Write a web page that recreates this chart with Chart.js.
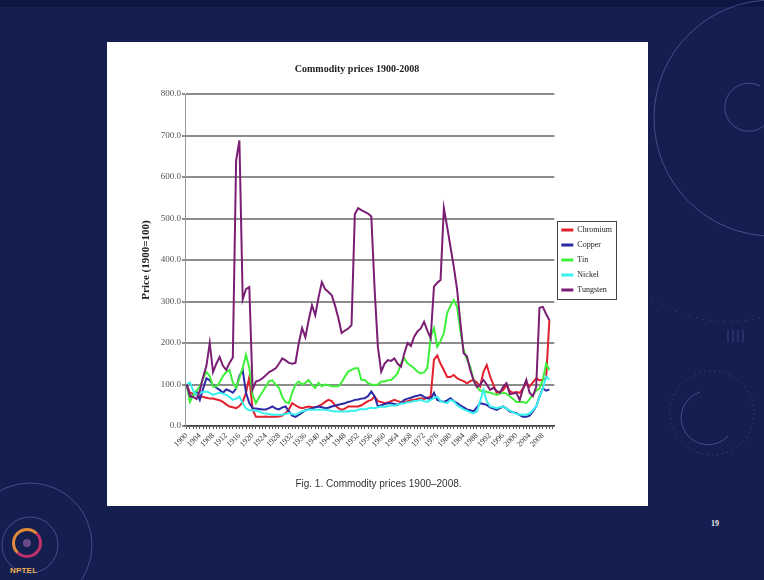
<!DOCTYPE html>
<html>
<head>
<meta charset="utf-8">
<script src="https://cdn.jsdelivr.net/npm/chart.js@4.4.1/dist/chart.umd.min.js"></script>
<style>
  html, body { margin: 0; padding: 0; }
  body { width: 764px; height: 580px; background: #141e4f; position: relative; overflow: hidden; font-family: "Liberation Serif", serif; }
  #band { position: absolute; left: 0; top: 0; width: 764px; height: 7px; background: #0d1542; }
  #deco { position: absolute; left: 0; top: 0; }
  #panel { position: absolute; left: 107px; top: 42px; width: 541px; height: 464px; background: #fff; }
  #chart { position: absolute; left: 0; top: 0; }
  #title { position: absolute; left: 0; top: 21px; width: 500px; text-align: center; font: bold 10px "Liberation Serif", serif; line-height: 12px; color: #222; }
  #caption { position: absolute; left: 0; top: 436px; width: 543px; text-align: center; font: 10px "Liberation Sans Narrow", "Liberation Sans", sans-serif; line-height: 12px; color: #333; }
  #logo { position: absolute; left: 12px; top: 528px; width: 30px; height: 30px; border-radius: 50%; border: 3px solid #e08a3a; border-right-color: #c0306a; border-bottom-color: #c0306a; box-sizing: border-box; }
  #logo::after { content: ""; position: absolute; left: 8px; top: 8px; width: 8px; height: 8px; border-radius: 50%; background: #6a4a8a; }
  #nptel { position: absolute; left: 10px; top: 566px; font: bold 8px "Liberation Sans", sans-serif; color: #f0b050; letter-spacing: 0.2px; }
  #page { position: absolute; left: 711px; top: 519px; font: bold 8px "Liberation Serif", serif; color: #e8e8f0; }
</style>
</head>
<body>
<div id="band"></div>
<svg id="deco" width="764" height="580" viewBox="0 0 764 580">
  <g fill="none" stroke="rgba(120,140,210,0.45)" stroke-width="1">
    <circle cx="772" cy="118" r="118"/>
    <path d="M 760 86 A 24 24 0 1 0 766 124"/>
    <path d="M 700 392 A 27 27 0 1 0 728 436"/>
    <circle cx="712" cy="413" r="42" stroke-dasharray="1 4"/>
    <circle cx="30" cy="545" r="28"/>
    <circle cx="30" cy="545" r="62"/>
    <path d="M 640 290 A 140 140 0 0 0 760 318" stroke-dasharray="1 6"/>
  </g>
  <g stroke="rgba(120,140,210,0.35)" stroke-width="1">
    <line x1="728" y1="330" x2="728" y2="342"/>
    <line x1="733" y1="330" x2="733" y2="342"/>
    <line x1="738" y1="330" x2="738" y2="342"/>
    <line x1="743" y1="330" x2="743" y2="342"/>
  </g>
</svg>
<div id="panel">
  <canvas id="chart" width="541" height="464"></canvas>
  <div id="title">Commodity prices 1900-2008</div>
  <div id="caption">Fig. 1. Commodity prices 1900&#8211;2008.</div>
</div>
<div id="logo"></div>
<div id="nptel">NPTEL</div>
<div id="page">19</div>

<script>
// Year categories along the x axis (one per year; data runs 1900-2010)
const firstYear = 1900;
const lastYear = 2011;
const years = [];
for (let y = firstYear; y <= lastYear; y++) years.push(y);

// Only every fourth year carries a printed label, up to 2008
const labelStep = 4;
const lastLabelYear = 2008;

// Y axis range and tick spacing (1900 = 100)
const yMin = 0;
const yMax = 800;
const yStep = 100;

// Price indices, 1900 = 100
const chromium = [
  100, 80, 78, 75, 72, 70, 68, 66, 66, 64,
  62, 58, 52, 47, 45, 43, 48, 58, 80, 118,
  40, 22, 22, 22, 23, 22, 22, 22, 23, 25,
  31, 40, 55, 50, 45, 43, 45, 47, 45, 45,
  48, 52, 58, 63, 60, 50, 43, 39, 42, 47,
  47, 47, 47, 50, 55, 60, 63, 71, 60, 58,
  55, 57, 60, 63, 60, 58, 58, 60, 62, 63,
  65, 67, 65, 68, 71, 160, 170, 150, 135, 118,
  118, 123, 115, 111, 108, 103, 108, 111, 105, 95,
  130, 147, 120, 100, 80, 82, 87, 99, 84, 80,
  82, 80, 90, 103, 95, 105, 115, 110, 112, 115,
  255
];

const copper = [
  100, 70, 75, 83, 63, 90, 115, 110, 99, 92,
  87, 80, 88, 85, 80, 90, 120, 135, 80, 55,
  43, 42, 41, 40, 40, 43, 47, 42, 40, 45,
  47, 35, 25, 22, 27, 32, 38, 40, 42, 45,
  47, 45, 43, 44, 47, 49, 51, 53, 55, 58,
  60, 63, 64, 66, 67, 72, 83, 71, 47, 50,
  53, 55, 55, 53, 51, 56, 63, 66, 68, 71,
  73, 75, 70, 67, 65, 80, 63, 60, 58, 62,
  67, 60, 55, 50, 45, 40, 38, 35, 45, 55,
  53, 51, 45, 42, 39, 43, 47, 42, 35, 33,
  31, 26, 22, 22, 25, 35, 47, 71, 91, 85,
  88
];

const tin = [
  100, 58, 75, 85, 95, 115, 130, 120, 95, 95,
  105, 120, 130, 135, 105, 92, 115, 140, 172, 140,
  75, 55, 70, 82, 95, 108, 110, 100, 92, 70,
  58, 55, 80, 100, 107, 100, 104, 111, 100, 92,
  104, 96, 100, 98, 96, 96, 96, 105, 119, 131,
  135, 139, 139, 111, 111, 103, 100, 99, 100, 107,
  107, 110, 111, 118, 127, 151, 163, 151, 145, 139,
  131, 127, 129, 140, 215, 236, 191, 205, 224, 272,
  290, 303, 287, 230, 183, 160, 143, 111, 95, 85,
  85, 82, 80, 78, 75, 78, 80, 78, 71, 65,
  58, 58, 58, 55, 65, 75, 85, 90, 111, 150,
  135
];

const nickel = [
  100, 105, 85, 75, 80, 82, 83, 80, 75, 78,
  80, 78, 75, 70, 63, 66, 71, 55, 42, 38,
  38, 37, 35, 31, 30, 29, 27, 27, 27, 27,
  29, 31, 29, 27, 31, 35, 37, 39, 39, 39,
  39, 39, 39, 38, 36, 35, 35, 35, 35, 35,
  37, 36, 39, 41, 40, 42, 44, 43, 45, 47,
  46, 48, 50, 49, 51, 54, 55, 57, 58, 60,
  61, 63, 60, 58, 63, 67, 71, 60, 57, 55,
  63, 60, 50, 45, 40, 37, 33, 31, 35, 60,
  87, 60, 47, 45, 43, 45, 47, 42, 37, 33,
  29, 27, 27, 27, 30, 38, 47, 70, 90, 119,
  112
];

const tungsten = [
  100, 72, 70, 65, 85, 118, 145, 200, 130, 150,
  166, 145, 135, 152, 165, 640, 688, 305, 330, 335,
  88, 107, 110, 115, 122, 130, 134, 139, 150, 163,
  158, 152, 150, 152, 200, 236, 214, 255, 291, 267,
  310, 347, 330, 323, 315, 290, 260, 224, 230, 235,
  243, 510, 525, 520, 516, 512, 505, 330, 190, 131,
  150, 159, 157, 163, 150, 143, 175, 200, 193, 215,
  228, 235, 251, 230, 212, 336, 345, 352, 525, 480,
  432, 384, 330, 250, 175, 168, 135, 110, 94, 100,
  111, 100, 87, 92, 85, 80, 95, 103, 77, 78,
  80, 63, 90, 111, 80, 72, 94, 285, 287, 270,
  255
];

const seriesNames = ['Chromium', 'Copper', 'Tin', 'Nickel', 'Tungsten'];
const seriesData = [chromium, copper, tin, nickel, tungsten];
const seriesColors = ['#e3202e', '#2d2aa6', '#3ff03a', '#38f0ee', '#7a1e74'];

const serif = 'Liberation Serif';

// Box around the legend entries
const legendFrame = {
  id: 'legendFrame',
  afterDraw(chart) {
    const boxes = chart.legend && chart.legend.legendHitBoxes;
    if (!boxes || !boxes.length) return;
    let x0 = Infinity, y0 = Infinity, x1 = -Infinity, y1 = -Infinity;
    boxes.forEach(b => {
      x0 = Math.min(x0, b.left); y0 = Math.min(y0, b.top);
      x1 = Math.max(x1, b.left + b.width); y1 = Math.max(y1, b.top + b.height);
    });
    const ctx = chart.ctx;
    ctx.save();
    ctx.strokeStyle = '#444';
    ctx.lineWidth = 1;
    ctx.strokeRect(Math.round(x0 - 4) + 0.5, Math.round(y0 - 5) + 0.5, Math.round(x1 - x0 + 8), Math.round(y1 - y0 + 10));
    ctx.restore();
  }
};

// Later series are drawn on top of earlier ones
const datasets = seriesNames.map((name, i) => ({
  label: name,
  data: seriesData[i],
  borderColor: seriesColors[i],
  backgroundColor: seriesColors[i],
  borderWidth: 2,
  pointRadius: 0,
  tension: 0,
  fill: false,
  order: seriesNames.length - i
}));

new Chart(document.getElementById('chart'), {
  type: 'line',
  data: { labels: years, datasets },
  plugins: [legendFrame],
  options: {
    responsive: false,
    animation: false,
    devicePixelRatio: 1,
    layout: { padding: { left: 30, right: 26, top: 52, bottom: 48 } },
    plugins: {
      title: { display: false },
      tooltip: { enabled: false },
      legend: {
        position: 'right',
        fullSize: false,
        align: 'center',
        labels: {
          boxWidth: 12,
          boxHeight: 3,
          padding: 7,
          color: '#222',
          font: { family: serif, size: 8 },
          sort: (a, b) => a.datasetIndex - b.datasetIndex,
          generateLabels(chart) {
            const items = Chart.defaults.plugins.legend.labels.generateLabels(chart);
            items.forEach(it => { it.lineWidth = 0; it.fillStyle = it.strokeStyle; });
            return items;
          }
        }
      }
    },
    scales: {
      x: {
        type: 'category',
        offset: true,
        grid: { display: true, drawOnChartArea: false, drawTicks: true, tickLength: 3, color: '#555', lineWidth: 1 },
        border: { display: true, color: '#444', width: 1.5 },
        ticks: {
          autoSkip: false,
          minRotation: 45,
          maxRotation: 45,
          padding: 2,
          color: '#333',
          font: { family: serif, size: 8 },
          callback(value, index) {
            const y = years[index];
            return ((y - firstYear) % labelStep === 0 && y <= lastLabelYear) ? String(y) : '';
          }
        },
        afterFit(scale) { scale.height = 32; }
      },
      y: {
        min: yMin,
        max: yMax,
        ticks: {
          stepSize: yStep,
          padding: 1,
          color: '#555',
          font: { family: serif, size: 9 },
          callback: v => Number(v).toFixed(1)
        },
        grid: { color: '#8c8c8c', lineWidth: 2, tickLength: 3, drawTicks: true },
        border: { display: true, color: '#999', width: 1 },
        title: {
          display: true,
          text: 'Price (1900=100)',
          color: '#222',
          font: { family: serif, size: 11, weight: 'bold' },
          padding: { top: 3, bottom: 0 }
        },
        afterFit(scale) { scale.width = 48; }
      }
    }
  }
});
</script>
</body>
</html>
